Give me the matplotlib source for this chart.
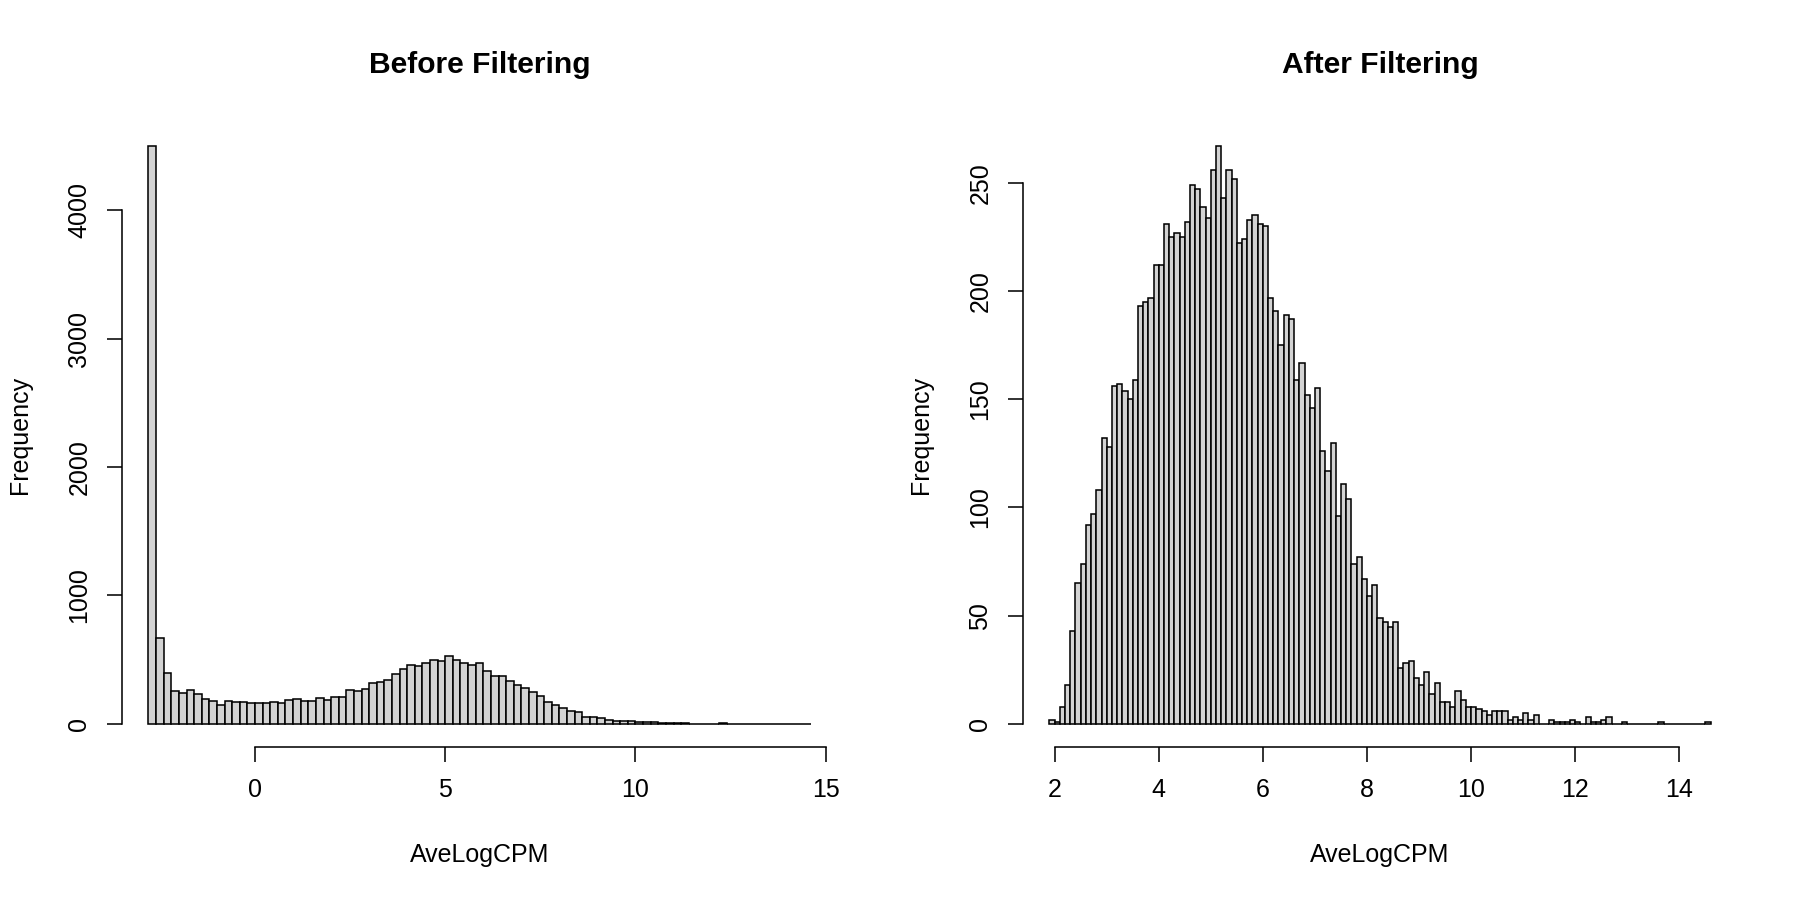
import matplotlib
matplotlib.use("Agg")
import matplotlib.pyplot as plt
import numpy as np

# counts, bin width 0.2 starting at -2.8
before_start = -2.8
before_width = 0.2
before_counts = [
    4500, 667, 394, 258, 237, 266, 232, 193, 180, 151,
    182, 169, 174, 161, 159, 161, 169, 159, 185, 193,
    182, 182, 200, 185, 206, 211, 263, 253, 273, 320,
    326, 339, 388, 427, 456, 451, 471, 495, 487, 526,
    500, 477, 458, 477, 414, 370, 370, 336, 305, 276,
    247, 214, 174, 146, 122, 104, 89, 55, 55, 44,
    34, 24, 24, 21, 16, 11, 14, 9, 6, 8,
    5, 3, 2, 3, 1, 4, 3, 3, 0, 1,
    0, 0, 1, 0, 0, 0, 1,
]

# after filtering, bin width 0.1 starting at 1.9
after_start = 1.9
after_width = 0.1
after_counts = [
    2, 1, 8, 18, 43, 65, 74, 92, 97, 108,
    132, 128, 156, 157, 154, 150, 159, 193, 195, 197,
    212, 212, 231, 225, 227, 225, 232, 249, 247, 239,
    234, 256, 267, 243, 256, 252, 222, 224, 233, 235,
    231, 230, 197, 191, 175, 189, 187, 159, 167, 152,
    146, 155, 126, 117, 130, 96, 111, 104, 74, 77,
    67, 59, 64, 49, 47, 45, 47, 26, 28, 29,
    21, 18, 24, 14, 19, 10, 10, 8, 15, 11,
    8, 8, 7, 6, 4, 6, 6, 6, 2, 3,
    2, 5, 2, 4, 0, 0, 2, 1, 1, 1,
    2, 1, 0, 3, 1, 1, 2, 3, 0, 0,
    1, 0, 0, 0, 0, 0, 0, 1, 0, 0,
    0, 0, 0, 0, 0, 0, 1,
]

before_xticks = [0, 5, 10, 15]
before_yticks = [0, 1000, 2000, 3000, 4000]
after_xticks = [2, 4, 6, 8, 10, 12, 14]
after_yticks = [0, 50, 100, 150, 200, 250]

plt.rcParams['font.family'] = ['Liberation Sans', 'DejaVu Sans']
plt.rcParams['font.size'] = 12


def r_hist(ax, start, width, counts, xticks, yticks, title):
    counts = np.array(counts)
    edges = start + width * np.arange(len(counts))
    ax.bar(edges, counts, width=width, align='edge', color='#D3D3D3',
           edgecolor='black', linewidth=0.75)

    # R style 4% padding around the data range
    x0, x1 = start, start + width * len(counts)
    dx = 0.04 * (x1 - x0)
    dy = 0.04 * counts.max()
    ax.set_xlim(x0 - dx, x1 + dx)
    ax.set_ylim(-dy, counts.max() + dy)

    ax.set_xticks(xticks)
    ax.set_yticks(yticks)
    ax.spines['top'].set_visible(False)
    ax.spines['right'].set_visible(False)
    ax.spines['left'].set_bounds(yticks[0], yticks[-1])
    ax.spines['bottom'].set_bounds(xticks[0], xticks[-1])
    for s in ['left', 'bottom']:
        ax.spines[s].set_linewidth(0.75)
    ax.tick_params(direction='out', length=7.2, width=0.75, pad=7.5)
    ax.tick_params(axis='y', labelrotation=90)
    for lab in ax.get_yticklabels():
        lab.set_va('center')

    ax.set_xlabel('AveLogCPM', labelpad=20)
    ax.set_ylabel('Frequency', labelpad=17)
    ax.set_title(title, fontsize=14.4, fontweight='bold', pad=24)


fig = plt.figure(figsize=(12, 6), dpi=150)
ax1 = fig.add_axes([122 / 1800, 153 / 900, 715 / 1800, 624 / 900])
ax2 = fig.add_axes([1023 / 1800, 153 / 900, 714 / 1800, 624 / 900])

r_hist(ax1, before_start, before_width, before_counts,
       before_xticks, before_yticks, 'Before Filtering')
r_hist(ax2, after_start, after_width, after_counts,
       after_xticks, after_yticks, 'After Filtering')

fig.savefig('out.png', dpi=150, facecolor='white')
